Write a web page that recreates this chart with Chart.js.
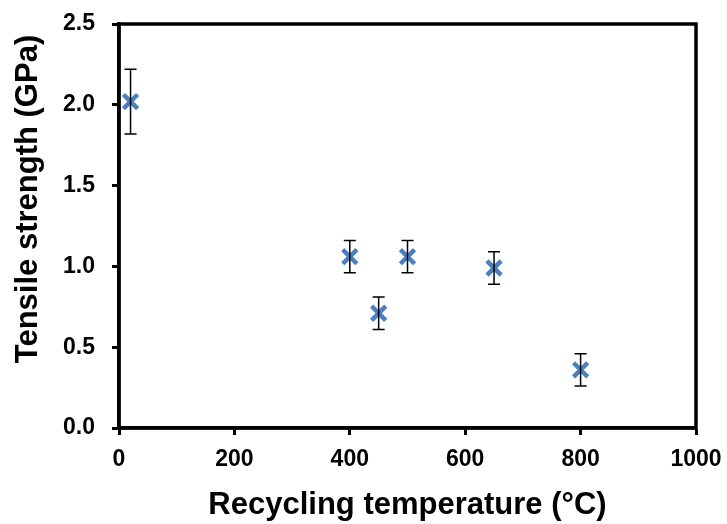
<!DOCTYPE html>
<html>
<head>
<meta charset="utf-8">
<script src="https://cdn.jsdelivr.net/npm/chart.js@4"></script>
<style>
  html, body { margin: 0; padding: 0; background: #fff; }
</style>
</head>
<body>
<canvas id="chart" width="727" height="524"></canvas>
<script>
const temps = [20, 400, 450, 500, 650, 800];
const strength = [2.02, 1.06, 0.71, 1.06, 0.99, 0.36];
const errors = [0.2, 0.1, 0.1, 0.1, 0.1, 0.1];
const xTicks = [0, 200, 400, 600, 800, 1000];
const yTicks = [0, 0.5, 1.0, 1.5, 2.0, 2.5];
const yTitle = 'Tensile strength (GPa)';

const FONT = 'Liberation Sans, Arial, sans-serif';

// error bars, full frame, y title (sits a bit above the plot centre in the original)
const extras = {
  id: 'extras',
  afterDatasetsDraw(chart) {
    const ctx = chart.ctx;
    const xs = chart.scales.x, ys = chart.scales.y;
    ctx.save();
    ctx.strokeStyle = '#000';
    ctx.lineWidth = 1.5;
    temps.forEach((t, i) => {
      const px = xs.getPixelForValue(t);
      const top = ys.getPixelForValue(strength[i] + errors[i]);
      const bot = ys.getPixelForValue(strength[i] - errors[i]);
      ctx.beginPath();
      ctx.moveTo(px, top); ctx.lineTo(px, bot);
      ctx.moveTo(px - 6, top); ctx.lineTo(px + 6, top);
      ctx.moveTo(px - 6, bot); ctx.lineTo(px + 6, bot);
      ctx.stroke();
    });
    ctx.restore();
  },
  afterDraw(chart) {
    const a = chart.chartArea, ctx = chart.ctx;
    ctx.save();
    ctx.strokeStyle = '#000';
    ctx.lineWidth = 3.5;
    ctx.strokeRect(a.left, a.top, a.right - a.left, a.bottom - a.top);

    ctx.translate(26, 199);
    ctx.rotate(-Math.PI / 2);
    ctx.fillStyle = '#000';
    ctx.font = 'bold 31px ' + FONT;
    ctx.textAlign = 'center';
    ctx.textBaseline = 'alphabetic';
    ctx.fillText(yTitle, 0, 11);
    ctx.restore();
  }
};

new Chart(document.getElementById('chart'), {
  type: 'scatter',
  data: {
    datasets: [{
      data: temps.map((t, i) => ({ x: t, y: strength[i] })),
      pointStyle: 'crossRot',
      pointRadius: 10,
      pointBorderWidth: 4.5,
      borderColor: '#4b7fbd',
      backgroundColor: '#4b7fbd'
    }]
  },
  options: {
    responsive: false,
    animation: false,
    devicePixelRatio: 1,
    layout: { padding: { left: 0, right: 31, top: 24, bottom: 0 } },
    plugins: { legend: { display: false }, tooltip: { enabled: false } },
    scales: {
      x: {
        type: 'linear',
        min: 0, max: 1000,
        afterBuildTicks: s => { s.ticks = xTicks.map(v => ({ value: v })); },
        afterFit: s => { s.height = 96; s.paddingLeft = 0; s.paddingRight = 0; },
        ticks: {
          color: '#000',
          padding: 11,
          callback: v => String(v),
          font: { family: FONT, size: 23, weight: 'bold' },
          maxRotation: 0
        },
        grid: { drawOnChartArea: false, tickLength: 7, tickWidth: 3, tickColor: '#000' },
        border: { color: '#000', width: 3.5 },
        title: {
          display: true,
          text: 'Recycling temperature (°C)',
          color: '#000',
          font: { family: FONT, size: 31, weight: 'bold' },
          padding: { top: 16, bottom: 0 }
        }
      },
      y: {
        min: 0, max: 2.5,
        afterBuildTicks: s => { s.ticks = yTicks.map(v => ({ value: v })); },
        afterFit: s => { s.width = 119; s.paddingTop = 0; s.paddingBottom = 0; },
        ticks: {
          color: '#000',
          padding: 17,
          callback: v => v.toFixed(1),
          font: { family: FONT, size: 23, weight: 'bold' }
        },
        grid: { drawOnChartArea: false, tickLength: 7, tickWidth: 3, tickColor: '#000' },
        border: { color: '#000', width: 3.5 },
        title: { display: false }
      }
    }
  },
  plugins: [extras]
});
</script>
</body>
</html>
